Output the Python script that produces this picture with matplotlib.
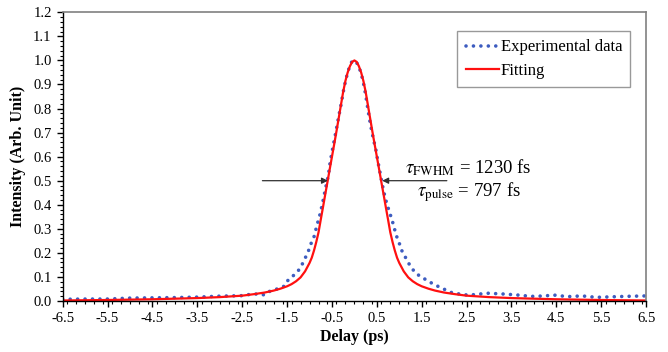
import numpy as np
import matplotlib.pyplot as plt
from matplotlib.ticker import MultipleLocator

plt.rcParams['font.family'] = ['Liberation Serif', 'DejaVu Serif']
plt.rcParams['mathtext.fontset'] = 'stix'

# experimental autocorrelation trace
exp_delay = [-6.5, -6.0, -5.5, -5.0, -4.5, -4.0, -3.5, -3.0, -2.5, -2.3, -2.14, -2.0,
             -1.9, -1.8, -1.66, -1.56, -1.49, -1.40, -1.25, -1.17, -1.10, -1.03, -0.97,
             -0.90, -0.83, -0.78, -0.71, -0.65, -0.58, -0.54, -0.48, -0.42, -0.36, -0.30,
             -0.25, -0.19, -0.13, -0.06, 0.01, 0.09, 0.16, 0.22, 0.26, 0.31, 0.36, 0.42,
             0.48, 0.52, 0.57, 0.61, 0.65, 0.70, 0.78, 0.83, 0.87, 0.93, 1.0, 1.06, 1.13,
             1.2, 1.35, 1.5, 1.61, 1.75, 1.85, 1.95, 2.07, 2.2, 2.35, 2.5, 2.65, 2.8, 2.98,
             3.31, 3.62, 3.94, 4.26, 4.42, 4.75, 5.07, 5.39, 5.70, 6.03, 6.5]
exp_int = [0.007, 0.008, 0.008, 0.012, 0.013, 0.014, 0.016, 0.020, 0.022, 0.028, 0.029, 0.025,
           0.039, 0.046, 0.053, 0.062, 0.084, 0.098, 0.126, 0.150, 0.177, 0.205, 0.237,
           0.267, 0.318, 0.350, 0.406, 0.462, 0.523, 0.578, 0.638, 0.696, 0.757, 0.814,
           0.868, 0.922, 0.962, 0.994, 1.0, 0.98, 0.939, 0.89, 0.846, 0.786, 0.731, 0.676,
           0.627, 0.583, 0.535, 0.495, 0.458, 0.419, 0.37, 0.342, 0.316, 0.274, 0.24, 0.208, 0.184,
           0.159, 0.118, 0.098, 0.087, 0.071, 0.062, 0.053, 0.043, 0.032, 0.029, 0.025, 0.026, 0.029, 0.032,
           0.029, 0.025, 0.019, 0.021, 0.025, 0.018, 0.021, 0.015, 0.017, 0.019, 0.021]

# fitted curve
fit_delay = [-6.5, -5.5, -4.5, -3.5, -3.0, -2.5, -2.25, -2.0, -1.8, -1.65, -1.5, -1.4, -1.3,
             -1.2, -1.1, -1.0, -0.95, -0.9, -0.85, -0.8, -0.75, -0.7, -0.65, -0.6, -0.55,
             -0.5, -0.45, -0.4, -0.35, -0.3, -0.25, -0.2, -0.15, -0.1, -0.05, 0.0,
             0.05, 0.1, 0.15, 0.2, 0.25, 0.3, 0.35, 0.4, 0.45, 0.5, 0.55, 0.6, 0.65, 0.7,
             0.75, 0.8, 0.85, 0.9, 0.95, 1.0, 1.1, 1.2, 1.3, 1.4, 1.5, 1.65, 1.8, 2.0, 2.25,
             2.5, 3.0, 3.5, 4.5, 5.5, 6.5]
fit_int = [0.002, 0.004, 0.007, 0.012, 0.016, 0.022, 0.028, 0.035, 0.043, 0.051, 0.061, 0.07,
           0.082, 0.098, 0.123, 0.158, 0.18, 0.21, 0.245, 0.285, 0.338, 0.39, 0.443, 0.495,
           0.548, 0.6, 0.652, 0.705, 0.76, 0.815, 0.87, 0.915, 0.95, 0.976, 0.994, 1.0,
           0.994, 0.976, 0.95, 0.915, 0.87, 0.815, 0.76, 0.705, 0.652, 0.6, 0.548, 0.495,
           0.443, 0.39, 0.338, 0.285, 0.245, 0.21, 0.18, 0.158, 0.123, 0.098, 0.082, 0.07,
           0.061, 0.051, 0.043, 0.035, 0.028, 0.022, 0.016, 0.012, 0.007, 0.004, 0.002]

fig = plt.figure(figsize=(6.68, 3.52), dpi=100)
ax = fig.add_axes([0.0939, 0.145, 0.8733, 0.82])

ax.plot(exp_delay, exp_int, color='#3D5CC0', lw=2.6, linestyle=(0, (0.01, 2.05)),
        dash_capstyle='round', label='Experimental data')
ax.plot(fit_delay, fit_int, color='#FF1010', lw=1.6, label='Fitting')

ax.set_xlim(-6.5, 6.5)
ax.set_ylim(0, 1.2)
ax.set_xticks(np.arange(-6.5, 6.51, 1.0))
ax.set_xticklabels([f'{v:.1f}' for v in np.arange(-6.5, 6.51, 1.0)])
ax.xaxis.set_minor_locator(MultipleLocator(0.2))
ax.set_yticks(np.arange(0, 1.21, 0.1))
ax.set_yticklabels([f'{v:.1f}' for v in np.arange(0, 1.21, 0.1)])
ax.yaxis.set_minor_locator(MultipleLocator(0.02))
ax.tick_params(which='major', direction='out', length=4, width=1, labelsize=10.5, pad=4)
ax.tick_params(which='minor', direction='out', length=2.5, width=0.8)

for s in ['top', 'right']:
    ax.spines[s].set_color('#808080')
    ax.spines[s].set_linewidth(1.2)
for s in ['left', 'bottom']:
    ax.spines[s].set_color('black')
    ax.spines[s].set_linewidth(1.0)

ax.set_xlabel('Delay (ps)', fontsize=11.5, fontweight='bold', labelpad=3)
ax.set_ylabel('Intensity (Arb. Unit)', fontsize=11.5, fontweight='bold', labelpad=5)

arrow = dict(arrowstyle='-|>', color='#303030', lw=0.9, mutation_scale=9, shrinkA=0, shrinkB=0)
ax.annotate('', xy=(-0.59, 0.5), xytext=(-2.05, 0.5), arrowprops=arrow)
ax.annotate('', xy=(0.62, 0.5), xytext=(2.06, 0.5), arrowprops=arrow)

ax.text(3.95, 0.53, r'$\tau_{\mathrm{FWHM}}$ = 1230 fs', fontsize=13.5, ha='right', va='baseline')
ax.text(3.70, 0.435, r'$\tau_{\mathrm{pulse}}$ = 797 fs', fontsize=13.5, ha='right', va='baseline')

leg = ax.legend(loc='upper right', bbox_to_anchor=(0.973, 0.935), fontsize=12,
                fancybox=False, edgecolor='#808080', handlelength=2.0, handletextpad=0.1,
                borderpad=0.5, labelspacing=0.45, borderaxespad=0)
leg.get_frame().set_linewidth(1.0)

plt.savefig('out.png', dpi=100)
